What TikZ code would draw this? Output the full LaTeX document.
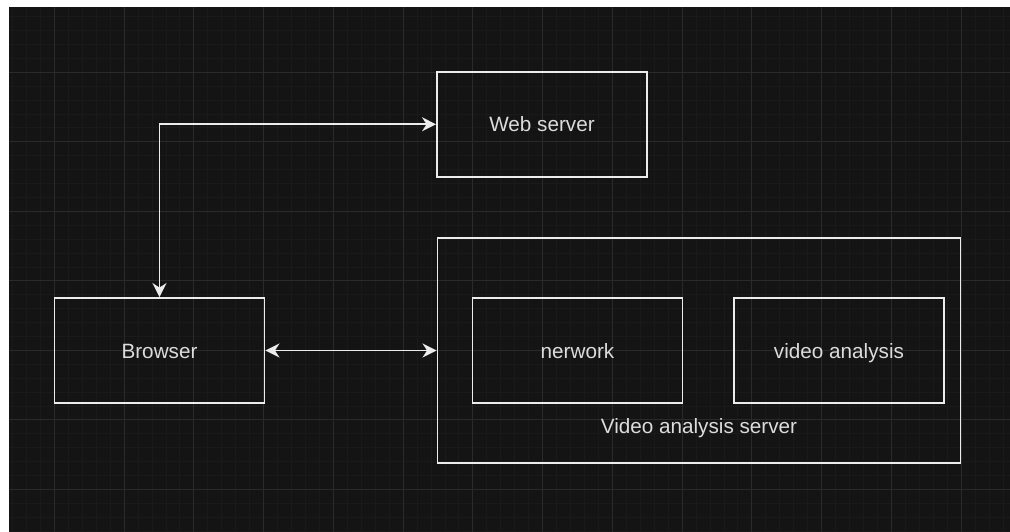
\documentclass[tikz,border=0pt]{standalone}
\usepackage{fontspec}
\setmainfont{Liberation Sans}
\usetikzlibrary{arrows.meta}

\definecolor{bgdark}{HTML}{141414}
\definecolor{gridminor}{HTML}{1A1A1A}
\definecolor{gridmajor}{HTML}{2A2A2A}
\definecolor{boxline}{HTML}{ECECEC}
\definecolor{txt}{HTML}{DCDCDC}

\tikzset{
  box/.style={draw=boxline, line width=1.9pt, minimum width=210pt, minimum height=105pt,
    text=txt, font=\fontsize{20.7}{24}\selectfont, text height=15pt, text depth=0pt},
  link/.style={draw=boxline, line width=1.9pt, {Stealth[length=14pt,width=14pt,inset=4.5pt]}-{Stealth[length=14pt,width=14pt,inset=4.5pt]}},
}

\begin{document}
\begin{tikzpicture}[x=1pt, y=-1pt]
  % Canvas
  \useasboundingbox (0,0) rectangle (1010,532);
  \fill[white] (0,0) rectangle (1010,532);
  \fill[bgdark] (9,7) rectangle (1010,532);

  % Grid
  \foreach \i in {0,...,72}
    \draw[gridminor, line width=0.8pt] ({-1.5+\i*13.95},7) -- ({-1.5+\i*13.95},532);
  \foreach \i in {0,...,37}
    \draw[gridminor, line width=0.8pt] (9,{16.7+\i*13.9}) -- (1010,{16.7+\i*13.9});
  \foreach \i in {0,...,13}
    \draw[gridmajor, line width=1pt] ({54.3+\i*69.75},7) -- ({54.3+\i*69.75},532);
  \foreach \i in {0,...,6}
    \draw[gridmajor, line width=1pt] (9,{72.3+\i*69.5}) -- (1010,{72.3+\i*69.5});

  % Servers
  \node[box] (web) at (542,124.3) {Web server};
  \node[box] (browser) at (159.5,350.5) {Browser};
  \node[box, minimum width=523pt, minimum height=225.5pt] (vas) at (699,350.3) {};
  \node[box] (net) at (577.5,350.5) {nerwork};
  \node[box] (vid) at (839,350.5) {video analysis};
  \node[text=txt, font=\fontsize{20.7}{24}\selectfont, anchor=base] (vaslabel) at (699,433.3) {Video analysis server};

  % Connections
  \draw[link] (browser.north) |- (web.west);
  \draw[link] (browser.east) -- (browser.east -| vas.west);
\end{tikzpicture}
\end{document}
